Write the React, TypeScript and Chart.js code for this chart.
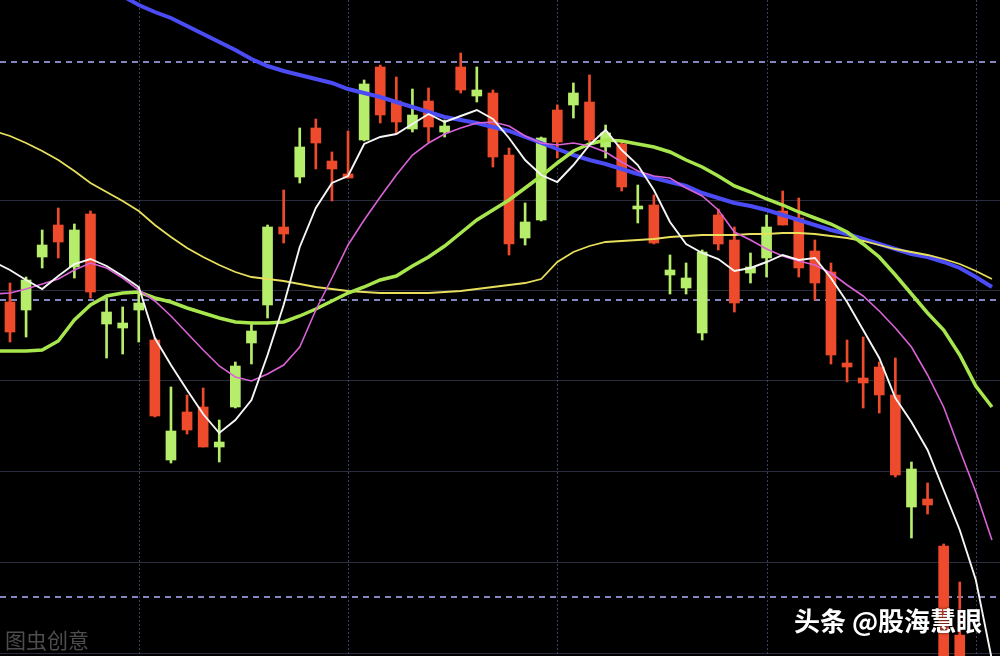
import React, { useEffect, useRef } from 'react';
import { Chart, registerables } from 'chart.js';

Chart.register(...registerables);

// ---- data (price units) ----
// candles: trading days 0..59 (days 60, 61 fall below the visible range)
const openP = [
  6.68, 7.20, 7.55, 7.58, 7.70, 7.08, 6.88, 6.77, 6.97, 5.84,
  5.69, 5.70, 5.53, 5.58, 6.34, 6.69, 7.73, 7.66, 8.53, 8.57,
  8.31, 8.22, 9.16, 8.85, 8.78, 8.85, 8.73, 8.74, 9.10, 9.10,
  8.43, 7.56, 7.78, 8.62, 8.58, 9.07, 8.60, 8.67, 8.13, 7.94,
  7.57, 7.30, 7.22, 7.48, 7.56, 6.97, 7.33, 7.73, 7.75, 7.32,
  7.17, 6.45, 6.33, 6.17, 6.05, 5.25, 5.31, 4.95, 3.10, 2.80,
];
const highP = [
  7.17, 7.23, 7.70, 7.92, 7.76, 7.89, 7.02, 6.93, 7.13, 6.62,
  6.13, 6.05, 6.12, 5.80, 6.38, 6.78, 7.75, 8.10, 8.72, 8.81,
  8.48, 8.69, 9.20, 9.35, 9.23, 9.11, 9.12, 8.80, 9.47, 9.33,
  9.10, 8.52, 7.97, 8.63, 8.95, 9.17, 9.25, 8.75, 8.59, 8.15,
  8.05, 7.45, 7.37, 7.50, 7.91, 7.73, 7.47, 7.85, 8.09, 8.02,
  7.60, 7.37, 6.60, 6.63, 6.38, 6.42, 5.38, 5.17, 4.56, 4.18,
];
const lowP = [
  6.58, 6.63, 7.32, 7.42, 7.22, 7.02, 6.42, 6.46, 6.58, 5.83,
  5.37, 5.66, 5.53, 5.38, 5.92, 6.36, 6.82, 7.57, 8.17, 8.31,
  7.99, 8.22, 8.59, 8.77, 8.67, 8.68, 8.58, 8.63, 9.07, 8.98,
  8.33, 7.45, 7.55, 7.79, 8.42, 8.82, 8.58, 8.42, 8.09, 7.77,
  7.56, 7.06, 7.06, 6.60, 7.50, 6.88, 7.17, 7.23, 7.75, 7.23,
  7.00, 6.36, 6.18, 5.92, 5.87, 5.23, 4.62, 4.86, 3.00, 2.70,
];
const closeP = [
  6.98, 6.90, 7.43, 7.75, 7.33, 7.86, 6.76, 6.72, 6.90, 6.60,
  5.40, 5.88, 5.93, 5.53, 5.93, 6.57, 6.95, 7.73, 8.23, 8.72,
  8.39, 8.26, 8.60, 9.33, 8.99, 8.71, 8.99, 8.68, 9.33, 9.04,
  9.07, 8.45, 7.62, 7.80, 8.90, 8.95, 8.98, 8.53, 8.56, 7.91,
  7.95, 7.25, 7.12, 6.67, 7.85, 7.60, 7.27, 7.42, 7.89, 7.82,
  7.49, 7.28, 6.37, 6.22, 6.33, 6.05, 4.93, 5.01, 4.54, 3.65,
];

// moving averages, one value per trading day, from day -1 to day 61
const MA_FIRST_DAY = -1;
const ma5 = [
  7.38,
  7.30, 7.20, 7.11, 7.24, 7.36, 7.41, 7.34, 7.24, 7.13, 6.62,
  6.35, 6.10, 5.86, 5.67, 5.80, 6.00, 6.45, 6.95, 7.53, 7.92,
  8.17, 8.24, 8.56, 8.63, 8.66, 8.76, 8.86, 8.78, 8.84, 8.90,
  8.81, 8.62, 8.40, 8.25, 8.18, 8.35, 8.55, 8.70, 8.50, 8.35,
  8.10, 7.78, 7.56, 7.47, 7.41, 7.29, 7.32, 7.38, 7.45, 7.40,
  7.42, 7.22, 6.98, 6.70, 6.42, 6.02, 5.78, 5.50, 5.10, 4.70,
  4.20, 3.40,
];
const ma10 = [
  7.06,
  7.07, 7.11, 7.16, 7.21, 7.30, 7.37, 7.32, 7.22, 7.10, 6.99,
  6.84, 6.67, 6.50, 6.34, 6.23, 6.19, 6.26, 6.35, 6.53, 6.90,
  7.22, 7.55, 7.80, 8.03, 8.25, 8.45, 8.57, 8.66, 8.72, 8.77,
  8.78, 8.74, 8.64, 8.57, 8.55, 8.57, 8.54, 8.48, 8.38, 8.29,
  8.24, 8.22, 8.12, 8.04, 7.90, 7.68, 7.60, 7.51, 7.44, 7.39,
  7.35, 7.27, 7.15, 7.04, 6.89, 6.72, 6.53, 6.25, 5.93, 5.50,
  5.08, 4.60,
];
const ma20 = [
  6.49,
  6.49, 6.49, 6.50, 6.59, 6.80, 6.95, 7.04, 7.07, 7.08, 7.02,
  6.98, 6.92, 6.87, 6.82, 6.78, 6.77, 6.77, 6.78, 6.84, 6.91,
  6.99, 7.07, 7.13, 7.20, 7.24, 7.34, 7.43, 7.54, 7.67, 7.80,
  7.90, 8.00, 8.12, 8.24, 8.37, 8.49, 8.56, 8.60, 8.59, 8.56,
  8.53, 8.48, 8.40, 8.33, 8.24, 8.14, 8.08, 8.01, 7.95, 7.88,
  7.82, 7.76, 7.68, 7.56, 7.43, 7.25, 7.06, 6.87, 6.70, 6.45,
  6.14, 5.93,
];
const ma60 = [
  8.69,
  8.64, 8.57, 8.49, 8.40, 8.29, 8.17, 8.08, 7.99, 7.89, 7.75,
  7.63, 7.52, 7.43, 7.35, 7.28, 7.23, 7.21, 7.19, 7.16, 7.13,
  7.11, 7.09, 7.08, 7.07, 7.07, 7.07, 7.07, 7.08, 7.09, 7.11,
  7.13, 7.15, 7.17, 7.21, 7.38, 7.48, 7.54, 7.58, 7.59, 7.60,
  7.61, 7.63, 7.64, 7.65, 7.65, 7.65, 7.66, 7.66, 7.67, 7.67,
  7.66, 7.64, 7.62, 7.59, 7.55, 7.51, 7.48, 7.45, 7.41, 7.36,
  7.29, 7.21,
];
const ma120 = [
  10.55,
  10.48, 10.42, 10.35, 10.28, 10.22, 10.16, 10.10, 10.04, 9.95, 9.88,
  9.82, 9.74, 9.66, 9.58, 9.50, 9.41, 9.34, 9.29, 9.25, 9.21,
  9.17, 9.11, 9.07, 9.03, 8.98, 8.93, 8.88, 8.83, 8.80, 8.77,
  8.73, 8.69, 8.63, 8.57, 8.51, 8.45, 8.40, 8.36, 8.31, 8.26,
  8.22, 8.18, 8.14, 8.07, 8.02, 7.97, 7.94, 7.90, 7.85, 7.80,
  7.75, 7.70, 7.66, 7.61, 7.56, 7.51, 7.46, 7.43, 7.38, 7.32,
  7.23, 7.13,
];

// reference levels and grid positions
const dashedLevels = [9.38, 7.0, 4.03];
const solidLevels = [8.0, 7.1, 6.2, 5.29, 4.38, 3.47];
const verticalGridDays = [8, 21, 34, 47, 60];

const RED = '#ee4a2c';
const GREEN = '#b6ee6c';

const gridPlugin = {
  id: 'klineGrid',
  beforeDatasetsDraw(chart: any) {
    const { ctx, chartArea, scales } = chart;
    const x = scales.x;
    const y = scales.y;
    ctx.save();
    ctx.lineWidth = 1;
    ctx.strokeStyle = '#282c3c';
    ctx.setLineDash([]);
    solidLevels.forEach((v) => {
      const py = Math.round(y.getPixelForValue(v)) + 0.5;
      ctx.beginPath();
      ctx.moveTo(chartArea.left, py);
      ctx.lineTo(chartArea.right, py);
      ctx.stroke();
    });
    ctx.strokeStyle = '#3a4060';
    ctx.setLineDash([2, 2]);
    verticalGridDays.forEach((d) => {
      const px = Math.round(x.getPixelForValue(d)) + 0.5;
      ctx.beginPath();
      ctx.moveTo(px, chartArea.top);
      ctx.lineTo(px, chartArea.bottom);
      ctx.stroke();
    });
    ctx.strokeStyle = '#aeb2ff';
    ctx.lineWidth = 1.6;
    ctx.setLineDash([6, 5]);
    dashedLevels.forEach((v) => {
      const py = Math.round(y.getPixelForValue(v));
      ctx.beginPath();
      ctx.moveTo(chartArea.left, py);
      ctx.lineTo(chartArea.right, py);
      ctx.stroke();
    });
    ctx.restore();
  },
};

export default function App() {
  const canvasRef = useRef<HTMLCanvasElement | null>(null);

  useEffect(() => {
    document.body.style.margin = '0';
    document.body.style.background = '#000';
    const canvas = canvasRef.current;
    if (!canvas) return;

    const colors = openP.map((o, i) => (closeP[i] >= o ? RED : GREEN));
    const bodies = openP.map((o, i) => ({ x: i, y: [o, closeP[i]] }));
    const wicks = openP.map((_, i) => ({ x: i, y: [lowP[i], highP[i]] }));
    const pts = (arr: number[]) => arr.map((v, i) => ({ x: i + MA_FIRST_DAY, y: v }));

    const lineDs = (label: string, arr: number[], color: string, width: number, order: number) => ({
      type: 'line' as const,
      label,
      data: pts(arr),
      borderColor: color,
      borderWidth: width,
      pointRadius: 0,
      tension: 0,
      fill: false,
      order,
    });

    const chart = new Chart(canvas, {
      type: 'bar',
      data: {
        datasets: [
          {
            type: 'bar',
            label: 'wick',
            data: wicks as any,
            backgroundColor: colors,
            barThickness: 2,
            grouped: false,
            borderSkipped: false,
            order: 20,
          } as any,
          {
            type: 'bar',
            label: 'body',
            data: bodies as any,
            backgroundColor: colors,
            barThickness: 10,
            grouped: false,
            borderSkipped: false,
            minBarLength: 2,
            order: 10,
          } as any,
          lineDs('MA120', ma120, '#4b4cf6', 4, 6),
          lineDs('MA60', ma60, '#e8df5c', 1.8, 5),
          lineDs('MA20', ma20, '#a8e64e', 3.5, 4),
          lineDs('MA10', ma10, '#d862d6', 1.6, 3),
          lineDs('MA5', ma5, '#f6f6f6', 1.9, 2),
        ],
      },
      options: {
        responsive: false,
        animation: false,
        devicePixelRatio: 1,
        layout: { padding: 0 },
        plugins: {
          legend: { display: false },
          tooltip: { enabled: false },
        },
        scales: {
          x: {
            type: 'linear',
            min: -0.62,
            max: 61.5,
            offset: false,
            bounds: 'ticks',
            display: false,
            grid: { offset: false },
          },
          y: { type: 'linear', min: 3.44, max: 10.0, display: false },
        },
      },
      plugins: [gridPlugin],
    });

    return () => chart.destroy();
  }, []);

  return (
    <div style={{ position: 'relative', width: 1000, height: 656, background: '#000', overflow: 'hidden' }}>
      <canvas ref={canvasRef} width={1000} height={656} style={{ display: 'block' }} />
      <div
        style={{
          position: 'absolute',
          left: 5,
          top: 629,
          fontFamily: '"Noto Sans CJK SC", sans-serif',
          fontSize: 21,
          lineHeight: 1,
          color: 'rgba(140,140,140,0.55)',
          letterSpacing: 0,
        }}
      >
        图虫创意
      </div>
      <div
        style={{
          position: 'absolute',
          left: 794,
          top: 607,
          fontFamily: '"Noto Sans CJK SC", sans-serif',
          fontSize: 26,
          fontWeight: 700,
          lineHeight: 1,
          color: '#ffffff',
          whiteSpace: 'nowrap',
          textShadow: '0 0 3px rgba(0,0,0,0.8)',
        }}
      >
        头条 @股海慧眼
      </div>
    </div>
  );
}
